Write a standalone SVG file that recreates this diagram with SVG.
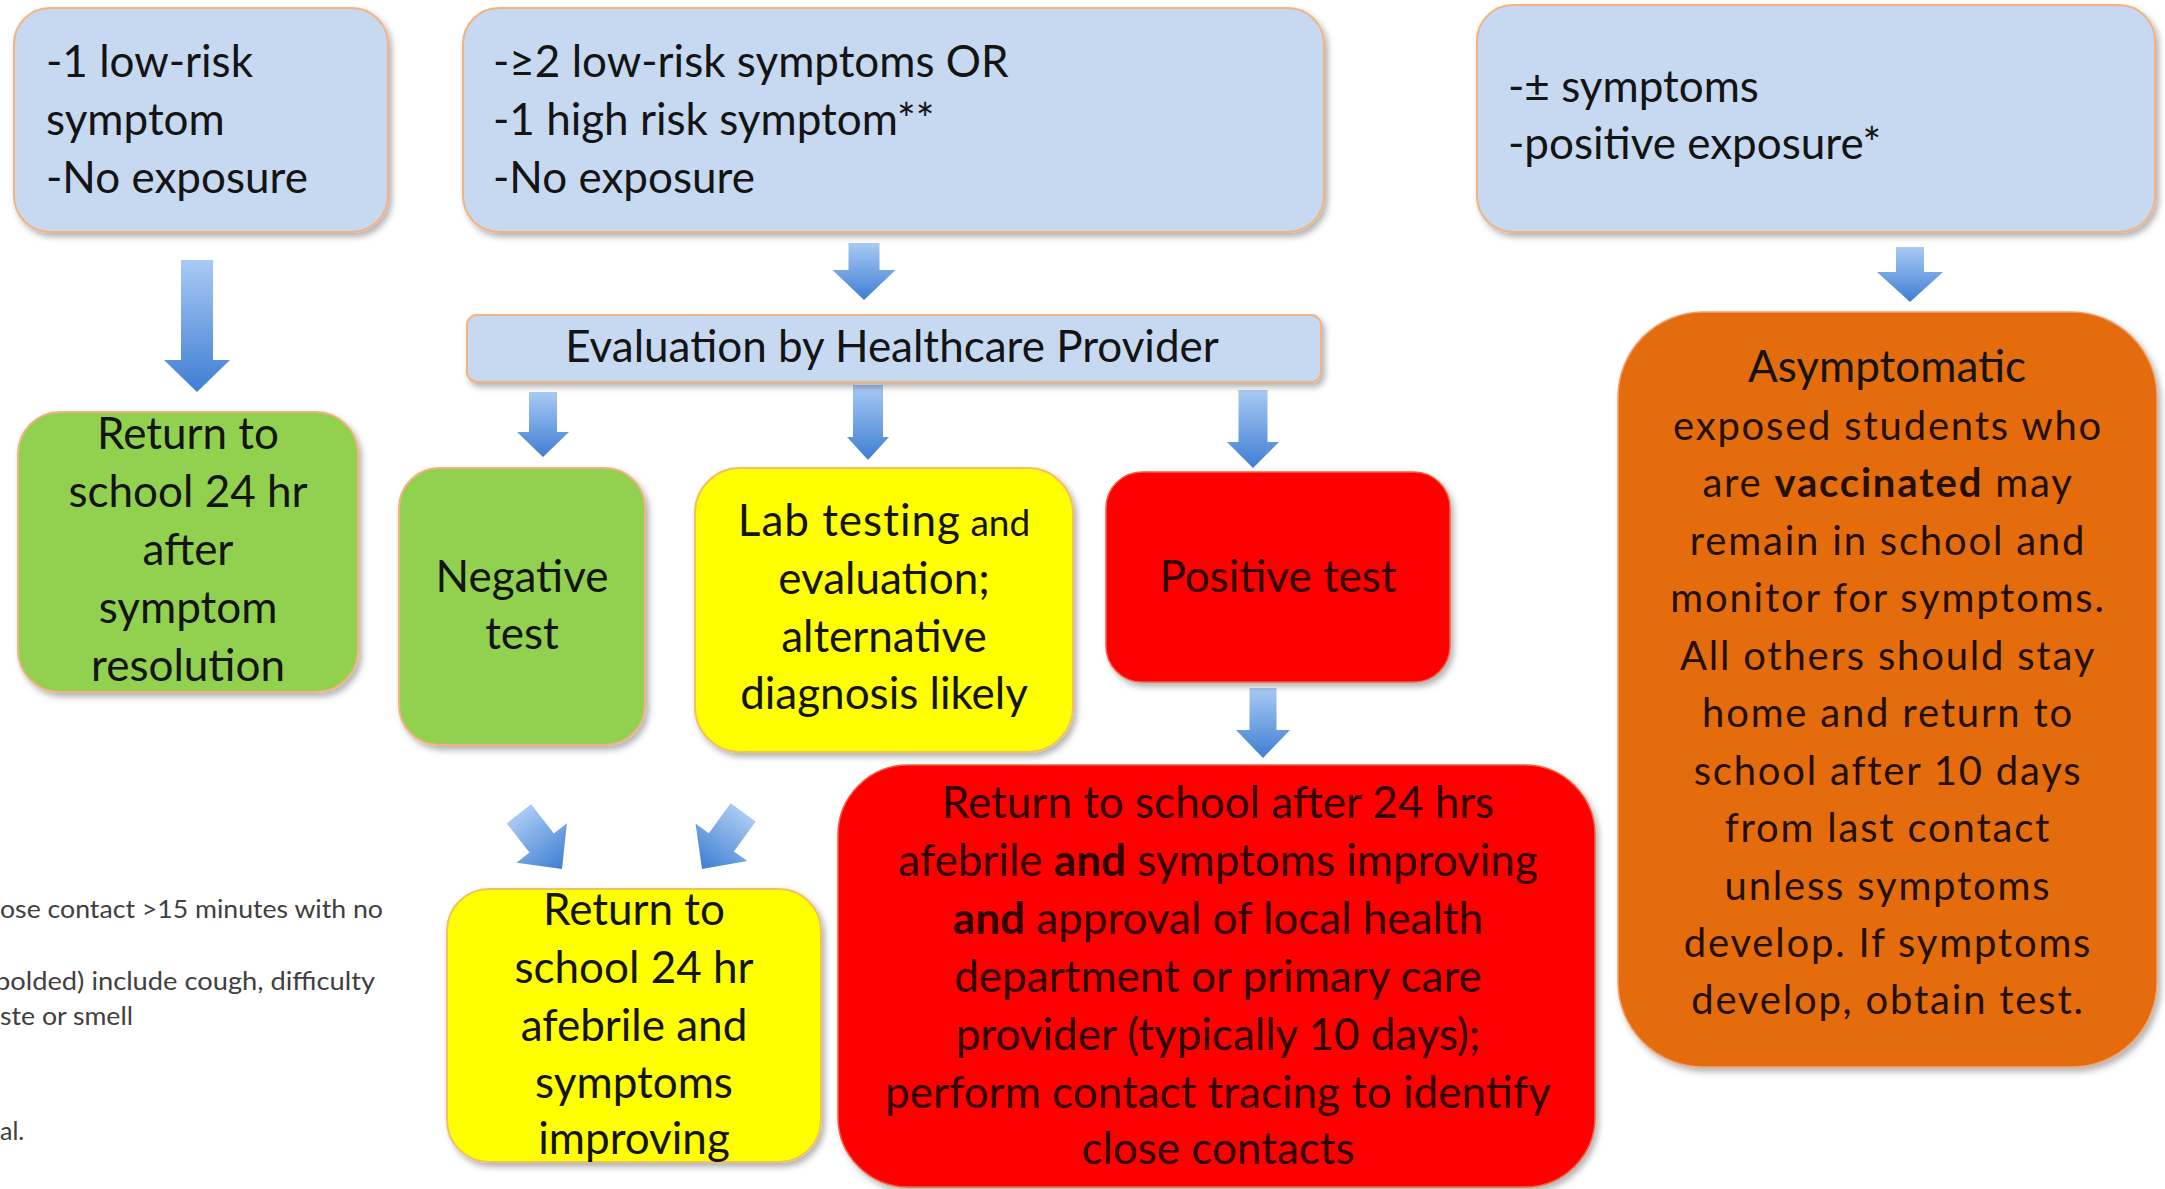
<svg xmlns="http://www.w3.org/2000/svg" width="2165" height="1189" viewBox="0 0 2165 1189">
<style>
.t{font-family:Lato,"Liberation Sans",sans-serif;font-size:44px;fill:#141414}
.c{text-anchor:middle}
.r{fill:#2e0000}
.o{font-size:40px;letter-spacing:1.8px;fill:#231000}
.fn{font-family:Lato,"Liberation Sans",sans-serif;font-size:25px;fill:#404040}
.blue{fill:#c6d9f0;stroke:#f2b282;stroke-width:2}
.green{fill:#92d050;stroke:#f2b282;stroke-width:2}
.yellow{fill:#ffff00;stroke:#f2c060;stroke-width:2}
.red{fill:#ff0000;stroke:#f06040;stroke-width:1.5}
.orange{fill:#e46c0a;stroke:#f2a070;stroke-width:1.5}
.arrow{fill:url(#ag)}
</style>
<defs>
<linearGradient id="ag" x1="0" y1="0" x2="0" y2="1">
<stop offset="0" stop-color="#a9caf4"/>
<stop offset="1" stop-color="#3f7ed2"/>
</linearGradient>
<filter id="sh" x="-10%" y="-10%" width="130%" height="130%">
<feDropShadow dx="3" dy="4" stdDeviation="3" flood-color="#000" flood-opacity="0.3"/>
</filter>
</defs>
<rect width="2165" height="1189" fill="#ffffff"/>

<g id="footnotes">
<text class="fn" x="0" y="918" textLength="383" lengthAdjust="spacingAndGlyphs">ose contact &gt;15 minutes with no</text>
<text class="fn" x="-5" y="990" textLength="380" lengthAdjust="spacingAndGlyphs">bolded) include cough, difficulty</text>
<text class="fn" x="0" y="1025" textLength="133" lengthAdjust="spacingAndGlyphs">ste or smell</text>
<text class="fn" x="0" y="1140">al.</text>
</g>

<g id="connectors">
<path class="arrow" d="M181,260 H213 V360 H230 L197,392 L164,360 H181 Z"/>
<path class="arrow" d="M848.5,243 H879.5 V270 H895.5 L864,300 L832.5,270 H848.5 Z"/>
<path class="arrow" d="M1896,247 H1924 V272 H1943 L1910,302 L1877,272 H1896 Z"/>
<path class="arrow" d="M529,392 H557 V432 H569 L543,457 L517,432 H529 Z"/>
<path class="arrow" d="M853,385 H883 V437 H889 L868,460 L847,437 H853 Z"/>
<path class="arrow" d="M1238.5,390 H1267.5 V442 H1279 L1253,468 L1227,442 H1238.5 Z"/>
<path class="arrow" d="M1249.5,688 H1276.5 V730 H1290 L1263,758 L1236,730 H1249.5 Z"/>
<path class="arrow" transform="translate(562,869) rotate(-38)" d="M-15.5,-70 H15.5 V-33 H32 L0,0 L-32,-33 H-15.5 Z"/>
<path class="arrow" transform="translate(702,869) rotate(36)" d="M-15.5,-70 H15.5 V-33 H32 L0,0 L-32,-33 H-15.5 Z"/>
</g>

<g id="n1">
<rect class="blue" filter="url(#sh)" x="14" y="8" width="374" height="224" rx="36"/>
<text class="t" x="46" y="77">-1 low-risk</text>
<text class="t" x="46" y="135">symptom</text>
<text class="t" x="46" y="193">-No exposure</text>
</g>

<g id="n2">
<rect class="blue" filter="url(#sh)" x="463" y="8" width="861" height="224" rx="36"/>
<text class="t" x="493" y="77">-≥2 low-risk symptoms OR</text>
<text class="t" x="493" y="135">-1 high risk symptom**</text>
<text class="t" x="493" y="193">-No exposure</text>
</g>

<g id="n3">
<rect class="blue" filter="url(#sh)" x="1477" y="5" width="678" height="227" rx="36"/>
<text class="t" x="1508" y="102">-± symptoms</text>
<text class="t" x="1508" y="159">-positive exposure*</text>
</g>

<g id="n4">
<rect class="blue" filter="url(#sh)" x="467" y="315" width="854" height="67" rx="10"/>
<text class="t c" x="892" y="362">Evaluation by Healthcare Provider</text>
</g>

<g id="n5">
<rect class="green" filter="url(#sh)" x="18" y="412" width="340" height="280" rx="42"/>
<text class="t c" x="188" y="449">Return to</text>
<text class="t c" x="188" y="507">school 24 hr</text>
<text class="t c" x="188" y="565">after</text>
<text class="t c" x="188" y="623">symptom</text>
<text class="t c" x="188" y="681">resolution</text>
</g>

<g id="n6">
<rect class="green" filter="url(#sh)" x="399" y="468" width="246" height="277" rx="40"/>
<text class="t c" x="522" y="592">Negative</text>
<text class="t c" x="522" y="649">test</text>
</g>

<g id="n7">
<rect class="yellow" filter="url(#sh)" x="695" y="468" width="378" height="284" rx="45"/>
<text class="t c" x="884" y="536"><tspan letter-spacing="1">Lab testing</tspan><tspan font-size="37"> and</tspan></text>
<text class="t c" x="884" y="594">evaluation;</text>
<text class="t c" x="884" y="652">alternative</text>
<text class="t c" x="884" y="709">diagnosis likely</text>
</g>

<g id="n8">
<rect class="red" filter="url(#sh)" x="1106" y="472" width="344" height="210" rx="36"/>
<text class="t c r" x="1278" y="592">Positive test</text>
</g>

<g id="n9">
<rect class="red" filter="url(#sh)" x="838" y="765" width="757" height="422" rx="70"/>
<text class="t c r" x="1218" y="818">Return to school after 24 hrs</text>
<text class="t c r" x="1218" y="876">afebrile <tspan font-weight="bold">and</tspan> symptoms improving</text>
<text class="t c r" x="1218" y="934"><tspan font-weight="bold">and</tspan> approval of local health</text>
<text class="t c r" x="1218" y="992">department or primary care</text>
<text class="t c r" x="1218" y="1050">provider (typically 10 days);</text>
<text class="t c r" x="1218" y="1108">perform contact tracing to identify</text>
<text class="t c r" x="1218" y="1164">close contacts</text>
</g>

<g id="n10">
<rect class="yellow" filter="url(#sh)" x="447" y="889" width="374" height="273" rx="42"/>
<text class="t c" x="634" y="925">Return to</text>
<text class="t c" x="634" y="983">school 24 hr</text>
<text class="t c" x="634" y="1041">afebrile and</text>
<text class="t c" x="634" y="1098">symptoms</text>
<text class="t c" x="634" y="1154">improving</text>
</g>

<g id="n11">
<rect class="orange" filter="url(#sh)" x="1618" y="312" width="539" height="755" rx="85"/>
<text class="t c" x="1887" y="382" fill="#231000">Asymptomatic</text>
<text class="t c o" x="1888" y="440">exposed students who</text>
<text class="t c o" x="1888" y="497">are <tspan font-weight="bold">vaccinated</tspan> may</text>
<text class="t c o" x="1888" y="555">remain in school and</text>
<text class="t c o" x="1888" y="612">monitor for symptoms.</text>
<text class="t c o" x="1888" y="670">All others should stay</text>
<text class="t c o" x="1888" y="727">home and return to</text>
<text class="t c o" x="1888" y="785">school after 10 days</text>
<text class="t c o" x="1888" y="842">from last contact</text>
<text class="t c o" x="1888" y="900">unless symptoms</text>
<text class="t c o" x="1888" y="957">develop.  If symptoms</text>
<text class="t c o" x="1888" y="1014">develop, obtain test.</text>
</g>
</svg>
